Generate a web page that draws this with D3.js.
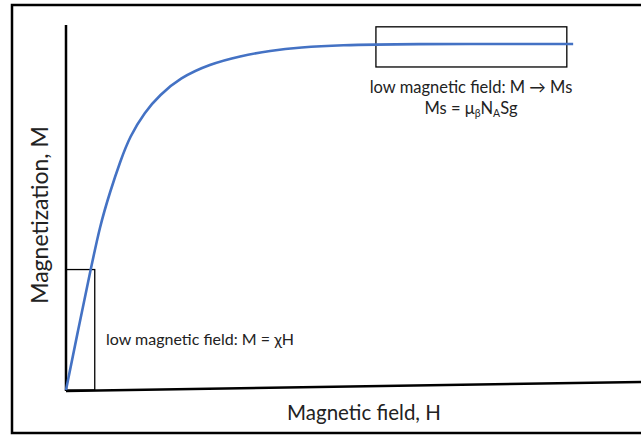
<!DOCTYPE html>
<html>
<head>
<meta charset="utf-8">
<script src="https://cdn.jsdelivr.net/npm/d3@7/dist/d3.min.js"></script>
<style>
  html, body { margin: 0; padding: 0; background: #fff; }
  svg { display: block; }
  text { font-family: Lato, "Noto Sans", sans-serif; fill: #222; }
</style>
</head>
<body>
<svg id="chart" width="641" height="435"></svg>
<script>
// Magnetization curve M(H): linear at low field, saturating at Ms
const fieldH = [0, 0.21, 0.42, 0.59, 0.77, 0.94, 1.11, 1.37, 1.63, 1.98, 2.5, 3.03, 3.55, 4.07, 4.77, 5.81, 8.82];
const magnetM = [0, 1.64, 3.23, 4.5, 5.45, 6.25, 6.95, 7.62, 8.08, 8.55, 8.93, 9.15, 9.3, 9.39, 9.45, 9.48, 9.48];

// Highlighted regions [H0, H1, M0, M1]
const lowFieldBox = [0, 0.5, 0, 3.3];
const saturationBox = [5.39, 8.71, 8.85, 9.95];

const axisTitles = { x: "Magnetic field, H", y: "Magnetization, M" };

const svg = d3.select("#chart");
const x = d3.scaleLinear().domain([0, 10]).range([66, 641]);
const y = d3.scaleLinear().domain([0, 10]).range([390, 25]);

// outer frame
svg.append("rect")
  .attr("x", 12).attr("y", 5).attr("width", 640).attr("height", 428)
  .attr("fill", "none").attr("stroke", "#000").attr("stroke-width", 2.5);

// axes
svg.append("line")
  .attr("x1", x(0)).attr("y1", y(0) + 1).attr("x2", x(0)).attr("y2", y(10))
  .attr("stroke", "#000").attr("stroke-width", 2.5);
svg.append("line")
  .attr("x1", x(0)).attr("y1", y(0) + 1).attr("x2", x(10)).attr("y2", y(0) - 8)
  .attr("stroke", "#000").attr("stroke-width", 2.5);

// boxes
[lowFieldBox, saturationBox].forEach(b => {
  svg.append("rect")
    .attr("x", x(b[0])).attr("y", y(b[3]))
    .attr("width", x(b[1]) - x(b[0])).attr("height", y(b[2]) - y(b[3]))
    .attr("fill", "none").attr("stroke", "#000").attr("stroke-width", 1.3);
});

// curve (B-spline through the sampled points for a smooth bend)
const line = d3.line()
  .x((d, i) => x(fieldH[i]))
  .y(d => y(d))
  .curve(d3.curveBasis);
svg.append("path")
  .attr("d", line(magnetM))
  .attr("fill", "none").attr("stroke", "#4472C4").attr("stroke-width", 2.6);

// annotations
svg.append("text")
  .attr("x", 106).attr("y", 345)
  .attr("font-size", 16)
  .text("low magnetic field: M = χH");

svg.append("text")
  .attr("x", 471).attr("y", 93).attr("text-anchor", "middle")
  .attr("font-size", 16.5)
  .text("low magnetic field: M → Ms");

const ms = svg.append("text")
  .attr("x", 471).attr("y", 114).attr("text-anchor", "middle")
  .attr("font-size", 16.5);
ms.append("tspan").text("Ms = μ");
ms.append("tspan").attr("font-size", 10.5).attr("dy", 3).text("β");
ms.append("tspan").attr("dy", -3).text("N");
ms.append("tspan").attr("font-size", 10.5).attr("dy", 3).text("A");
ms.append("tspan").attr("dy", -3).text("Sg");

// axis titles
svg.append("text")
  .attr("x", 364).attr("y", 420).attr("text-anchor", "middle")
  .attr("font-size", 20.5)
  .text(axisTitles.x);
svg.append("text")
  .attr("transform", "translate(48,215) rotate(-90)")
  .attr("text-anchor", "middle")
  .attr("font-size", 23)
  .text(axisTitles.y);
</script>
</body>
</html>
